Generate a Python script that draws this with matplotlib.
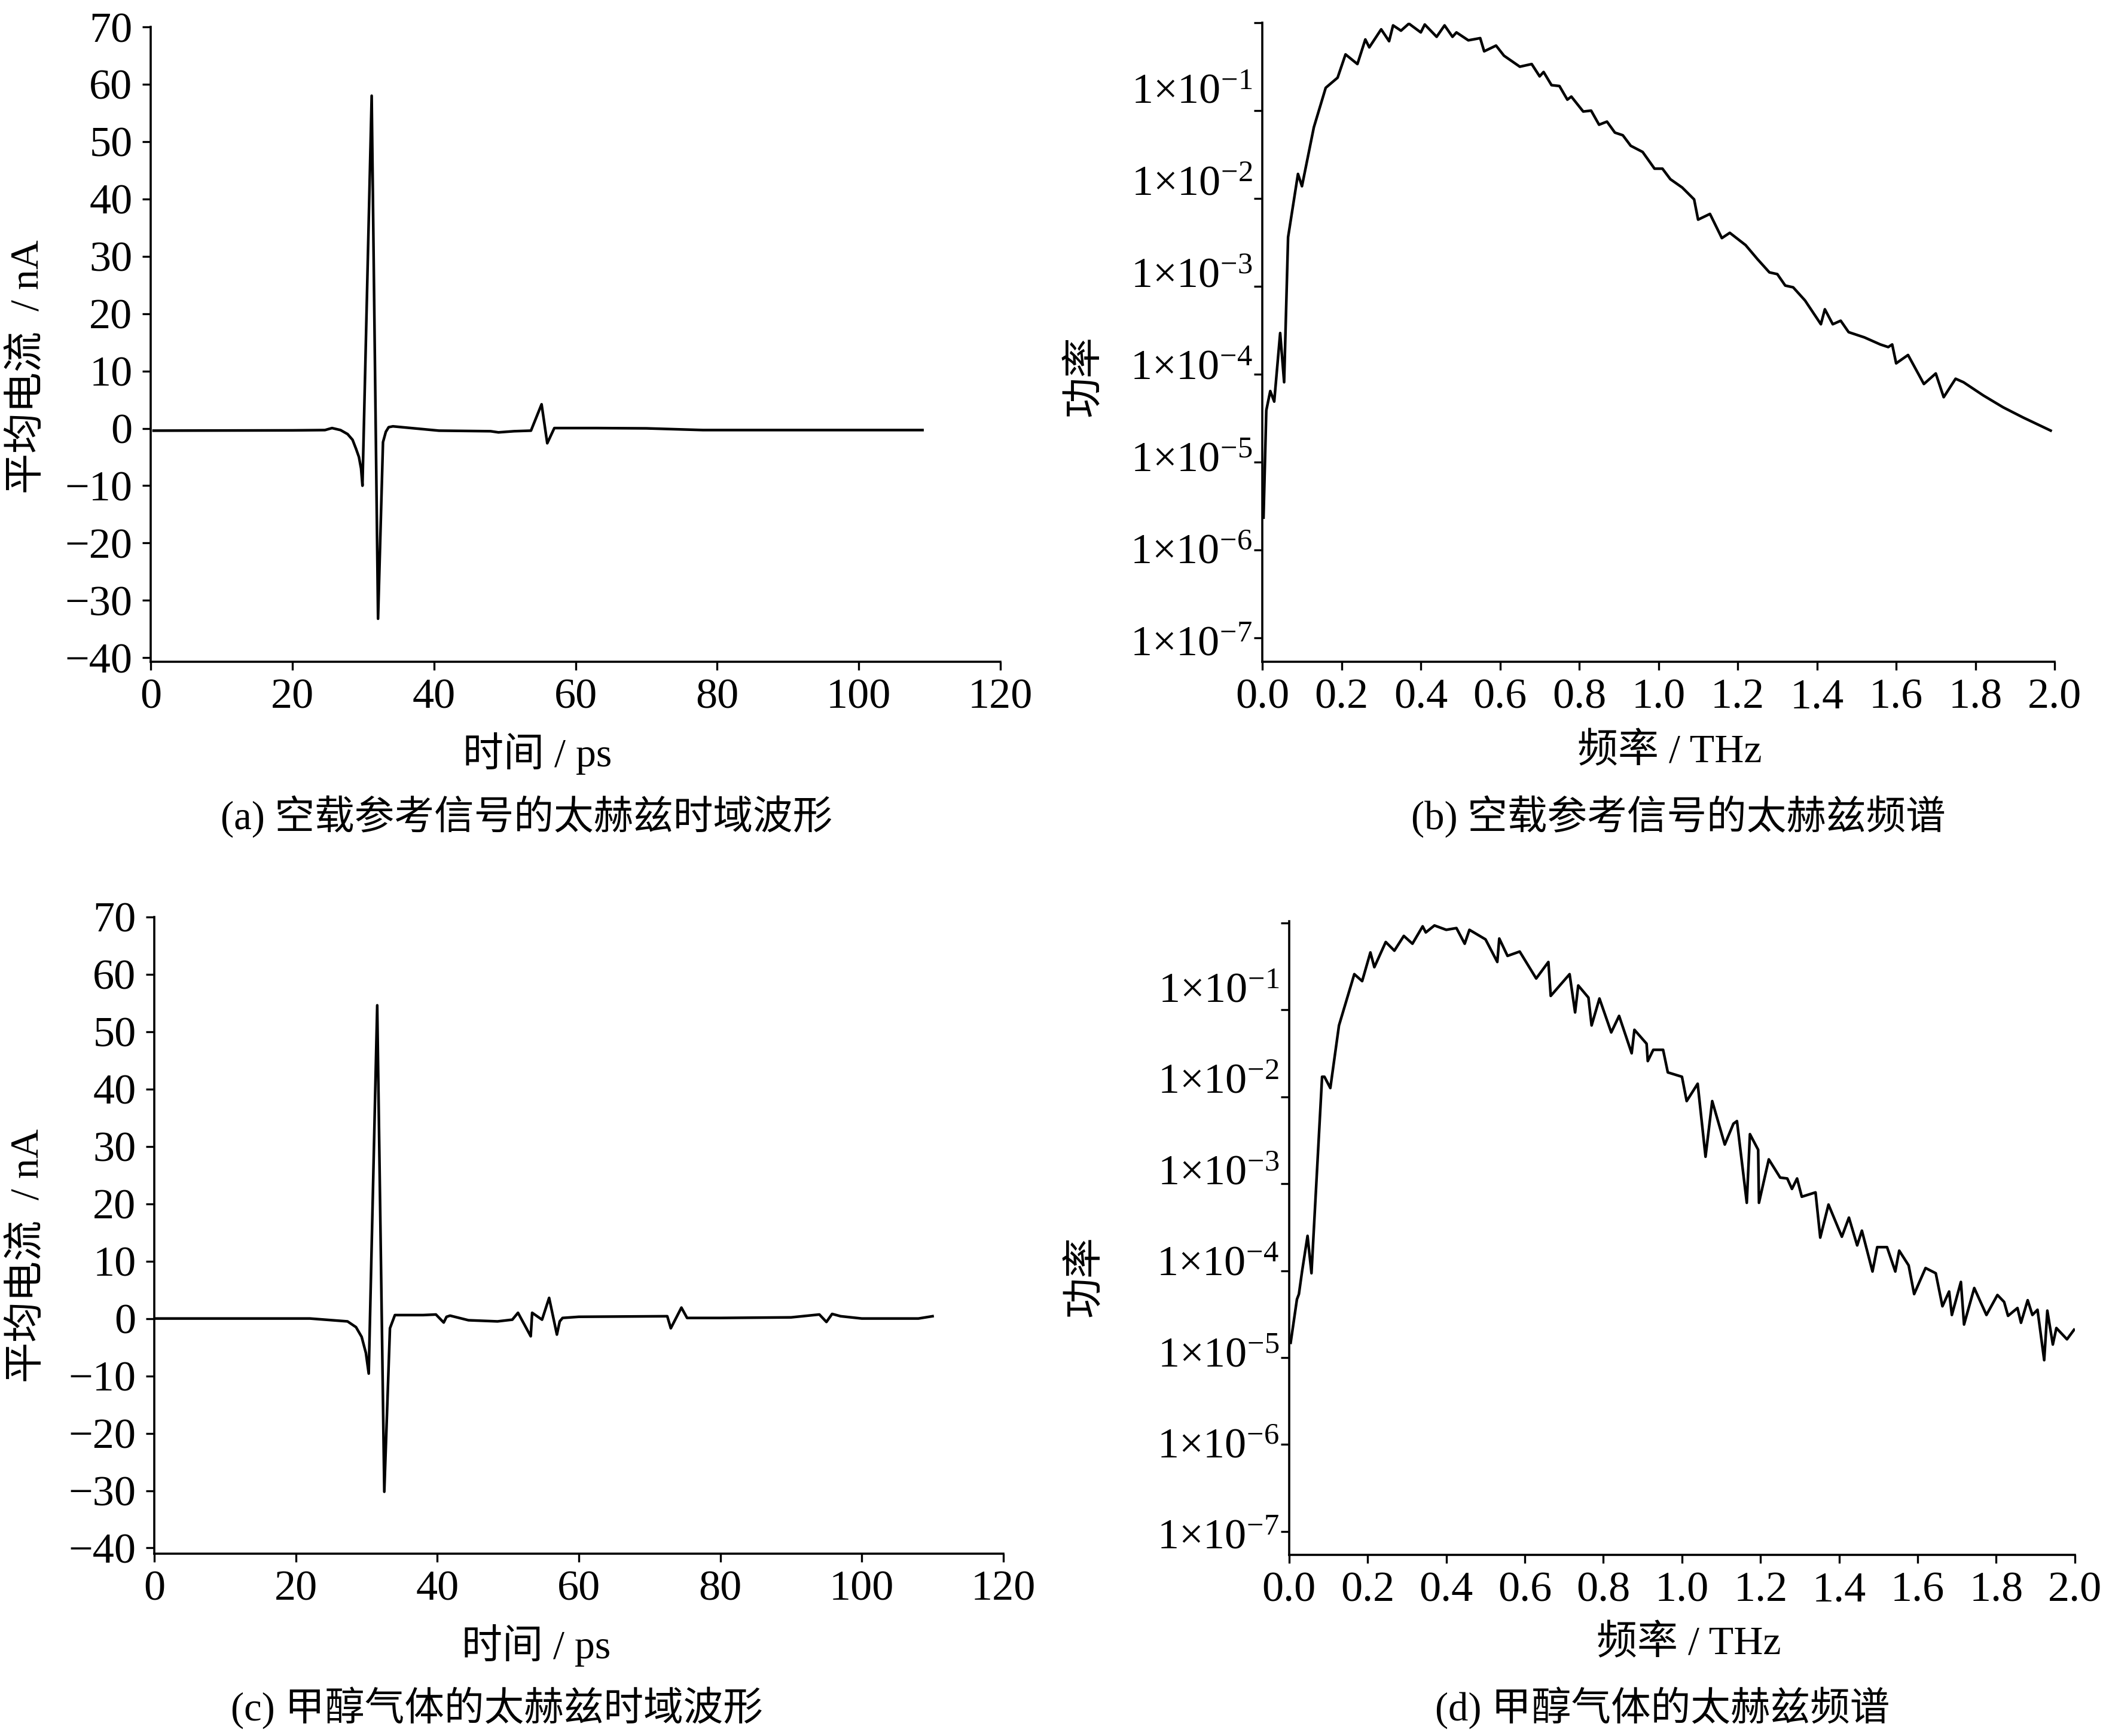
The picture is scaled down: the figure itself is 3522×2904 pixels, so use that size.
import numpy as np
import matplotlib
matplotlib.use('Agg')
import matplotlib.pyplot as plt
from matplotlib.transforms import ScaledTranslation

plt.rcParams['font.family'] = ['Liberation Serif', 'Noto Sans CJK SC']
plt.rcParams['mathtext.fontset'] = 'custom'
plt.rcParams['mathtext.rm'] = 'Liberation Serif'
plt.rcParams['mathtext.it'] = 'Liberation Serif:italic'
plt.rcParams['axes.unicode_minus'] = True

# (a) reference signal, time domain (ps, nA)
t_ref = [0.4, 20, 24.6, 25.6, 26.8, 27.8, 28.5, 29.0, 29.4, 29.7, 29.9, 31.2, 32.1, 32.8,
         33.2, 33.6, 34.2, 40.7, 48.0, 49.1, 51.3, 53.7, 55.2, 56.0, 57.0, 63.0, 70.0,
         78.0, 90.0, 109.0]
i_ref = [-0.4, -0.35, -0.3, 0.05, -0.3, -1.0, -2.0, -3.6, -5.0, -7.0, -10.0, 58.0, -33.2, -2.4,
         -0.6, 0.2, 0.35, -0.4, -0.5, -0.7, -0.5, -0.4, 4.2, -2.6, 0.05, 0.05, 0.0,
         -0.3, -0.3, -0.3]

# (c) methanol gas, time domain
t_gas = [0.0, 22.0, 27.3, 28.5, 29.3, 29.9, 30.3, 31.5, 32.5, 33.3, 34.0, 38.0, 39.8, 40.9,
         41.3, 41.8, 44.4, 48.5, 50.6, 51.4, 53.2, 53.4, 54.8, 55.8, 56.9, 57.3, 57.7, 60.0,
         72.5, 73.0, 74.5, 75.3, 80.0, 90.0, 94.0, 95.0, 95.8, 97.0, 100.0, 108.0, 110.0]
i_gas = [0.0, 0.0, -0.5, -1.5, -3.2, -6.0, -9.6, 54.6, -30.2, -1.7, 0.6, 0.6, 0.7, -0.7,
         0.3, 0.5, -0.3, -0.5, -0.2, 1.0, -3.1, 1.0, -0.2, 3.6, -2.8, -0.5, 0.1, 0.3,
         0.4, -1.7, 1.9, 0.1, 0.1, 0.2, 0.7, -0.6, 0.8, 0.4, 0.0, 0.0, 0.4]

# (b) reference spectrum: frequency (THz), log10(power)
f_ref = [0.003, 0.01, 0.02, 0.03, 0.045, 0.055, 0.065, 0.09, 0.10, 0.13, 0.16, 0.19, 0.21,
         0.24, 0.26, 0.27, 0.30, 0.32, 0.33, 0.35, 0.37, 0.40, 0.41, 0.44, 0.46, 0.48, 0.49,
         0.52, 0.55, 0.56, 0.59, 0.61, 0.65, 0.68, 0.70, 0.71, 0.73, 0.75, 0.77, 0.78, 0.81,
         0.83, 0.85, 0.87, 0.89, 0.91, 0.93, 0.96, 0.99, 1.01, 1.03, 1.06, 1.09, 1.10, 1.13,
         1.16, 1.18, 1.22, 1.25, 1.28, 1.30, 1.32, 1.34, 1.37, 1.41, 1.42, 1.44, 1.46, 1.48,
         1.52, 1.56, 1.58, 1.59, 1.60, 1.63, 1.67, 1.70, 1.72, 1.75, 1.77, 1.82, 1.87, 1.92,
         1.99]
p_ref_log = [-5.63, -4.41, -4.19, -4.31, -3.53, -4.09, -2.44, -1.72, -1.86, -1.19, -0.74,
             -0.625, -0.36, -0.47, -0.19, -0.28, -0.075, -0.21, -0.03, -0.09, -0.01, -0.11,
             -0.02, -0.16, -0.03, -0.16, -0.11, -0.20, -0.175, -0.325, -0.26, -0.375, -0.50,
             -0.47, -0.61, -0.56, -0.71, -0.72, -0.875, -0.84, -1.01, -1.00, -1.16, -1.125,
             -1.25, -1.28, -1.40, -1.47, -1.66, -1.66, -1.78, -1.875, -2.01, -2.24, -2.175,
             -2.45, -2.39, -2.53, -2.69, -2.84, -2.86, -2.99, -3.01, -3.16, -3.43, -3.26,
             -3.43, -3.39, -3.52, -3.58, -3.66, -3.69, -3.66, -3.875, -3.78, -4.11, -3.99,
             -4.26, -4.05, -4.09, -4.24, -4.375, -4.49, -4.64]

# (d) methanol gas spectrum
f_gas = [0.004, 0.02, 0.025, 0.033, 0.047, 0.057, 0.084, 0.09, 0.105, 0.127, 0.166, 0.186,
         0.207, 0.217, 0.246, 0.268, 0.292, 0.314, 0.34, 0.348, 0.37, 0.40, 0.426, 0.447,
         0.459, 0.50, 0.53, 0.535, 0.556, 0.587, 0.629, 0.66, 0.666, 0.714, 0.728, 0.736,
         0.762, 0.77, 0.79, 0.82, 0.84, 0.872, 0.879, 0.91, 0.913, 0.927, 0.952, 0.964, 1.0,
         1.012, 1.04, 1.06, 1.077, 1.109, 1.131, 1.14, 1.165, 1.173, 1.194, 1.196, 1.221,
         1.25, 1.268, 1.28, 1.293, 1.305, 1.34, 1.352, 1.373, 1.407, 1.425, 1.446, 1.458,
         1.485, 1.497, 1.522, 1.543, 1.553, 1.577, 1.591, 1.62, 1.646, 1.663, 1.68, 1.687,
         1.71, 1.718, 1.744, 1.775, 1.803, 1.82, 1.83, 1.854, 1.863, 1.88, 1.892, 1.905,
         1.922, 1.93, 1.944, 1.953, 1.98, 1.998]
p_gas_log = [-4.83, -4.33, -4.27, -4.01, -3.6, -4.03, -1.77, -1.77, -1.9, -1.18, -0.59, -0.67,
             -0.34, -0.51, -0.22, -0.32, -0.15, -0.24, -0.04, -0.11, -0.03, -0.08, -0.06, -0.24,
             -0.08, -0.19, -0.45, -0.18, -0.38, -0.33, -0.64, -0.45, -0.84, -0.59, -1.03, -0.72,
             -0.86, -1.18, -0.87, -1.26, -1.07, -1.5, -1.23, -1.39, -1.59, -1.46, -1.46, -1.72,
             -1.77, -2.05, -1.85, -2.69, -2.05, -2.55, -2.31, -2.28, -3.22, -2.43, -2.61, -3.22,
             -2.72, -2.93, -2.94, -3.06, -2.94, -3.15, -3.1, -3.62, -3.24, -3.61, -3.39, -3.71,
             -3.54, -4.01, -3.73, -3.73, -4.01, -3.77, -3.94, -4.27, -3.97, -4.03, -4.41, -4.24,
             -4.51, -4.13, -4.62, -4.2, -4.51, -4.28, -4.36, -4.52, -4.43, -4.6, -4.34, -4.51,
             -4.45, -5.03, -4.46, -4.85, -4.66, -4.79, -4.68]

time_ticks = [0, 20, 40, 60, 80, 100, 120]
current_ticks = [70, 60, 50, 40, 30, 20, 10, 0, -10, -20, -30, -40]
freq_ticks = [0.0, 0.2, 0.4, 0.6, 0.8, 1.0, 1.2, 1.4, 1.6, 1.8, 2.0]
decades = [0, -1, -2, -3, -4, -5, -6, -7]

captions = ['(a) 空载参考信号的太赫兹时域波形', '(b) 空载参考信号的太赫兹频谱',
            '(c) 甲醇气体的太赫兹时域波形', '(d) 甲醇气体的太赫兹频谱']

DPI = 200
LW = 1.6
FS_TICK = 26
FS_LABEL = 24.5
FS_CAP = 24


def style_axes(ax):
    for side in ('top', 'right'):
        ax.spines[side].set_visible(False)
    for side in ('left', 'bottom'):
        ax.spines[side].set_linewidth(1.3)
    ax.tick_params(direction='out', length=5, width=1.2, labelsize=FS_TICK)
    ax.minorticks_off()


def time_panel(rect, t, cur, ylo):
    ax = fig.add_axes(rect)
    ax.plot(t, cur, color='black', lw=LW)
    ax.set_xlim(0, 120)
    ax.set_ylim(ylo, 70)
    ax.set_xticks(time_ticks)
    ax.set_yticks(current_ticks)
    style_axes(ax)
    ax.tick_params(axis='y', pad=6)
    ax.tick_params(axis='x', pad=5)
    ax.set_xlabel('时间 / ps', fontsize=FS_LABEL)
    ax.set_ylabel('平均电流  / nA', fontsize=FS_LABEL)
    return ax


def spec_panel(rect, f, plog, ytop):
    ax = fig.add_axes(rect)
    ax.plot(f, 10.0 ** np.array(plog), color='black', lw=LW)
    ax.set_yscale('log')
    ax.set_xlim(0, 2.0)
    ax.set_ylim(10 ** -7.27, 10 ** ytop)
    ax.set_xticks(freq_ticks)
    ax.set_xticklabels([f'{v:.1f}' for v in freq_ticks])
    ax.set_yticks([10.0 ** d for d in decades])
    ax.set_yticklabels(['' if d == 0 else r'$1{\times}10^{%d}$' % d for d in decades])
    style_axes(ax)
    ax.tick_params(axis='y', pad=1)
    ax.tick_params(axis='x', pad=5)
    ax.set_xlabel('频率 / THz', fontsize=FS_LABEL)
    ax.set_ylabel('功率', fontsize=FS_LABEL)
    # the original labels creep upward relative to their ticks
    for k, lab in enumerate(ax.get_yticklabels()):
        if k == 0:
            continue
        dy = (38 - 7 * (k - 1)) / DPI
        lab.set_transform(lab.get_transform() + ScaledTranslation(0, dy, fig.dpi_scale_trans))
    return ax


fig = plt.figure(figsize=(3522 / DPI, 2904 / DPI), dpi=DPI)

ax_a = time_panel([0.0716, 0.6188, 0.4034, 0.3657], t_ref, i_ref, -40.7)
ax_b = spec_panel([0.5994, 0.6188, 0.3762, 0.3681], f_ref, p_ref_log, 0.0)
ax_c = time_panel([0.0733, 0.1050, 0.4031, 0.3668], t_gas, i_gas, -41.0)
ax_d = spec_panel([0.6121, 0.1043, 0.3731, 0.3651], f_gas, p_gas_log, 0.02)

ax_a.yaxis.set_label_coords(-0.123, 0.465)
ax_c.yaxis.set_label_coords(-0.127, 0.468)
ax_b.yaxis.set_label_coords(-0.20, 0.447)
ax_d.yaxis.set_label_coords(-0.235, 0.44)
ax_a.xaxis.set_label_coords(0.455, -0.111)
ax_b.xaxis.set_label_coords(0.514, -0.111)
ax_c.xaxis.set_label_coords(0.45, -0.111)
ax_d.xaxis.set_label_coords(0.509, -0.110)

cap_pos = [(0.25, 0.5296), (0.797, 0.5296), (0.236, 0.0162), (0.7895, 0.0162)]
for (x, y), txt in zip(cap_pos, captions):
    fig.text(x, y, txt, ha='center', va='center', fontsize=FS_CAP)

fig.savefig('out.png', dpi=DPI, facecolor='white')
